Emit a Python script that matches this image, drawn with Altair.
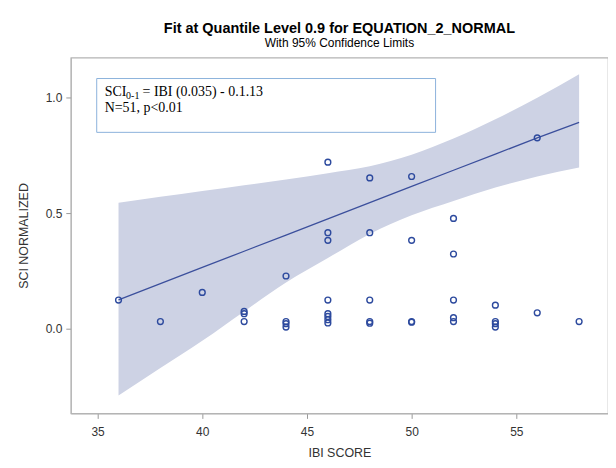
import altair as alt
import pandas as pd

# Observed points
ibi = [36, 38, 40, 42, 42, 42, 44, 44, 44, 44,
       46, 46, 46, 46, 46, 46, 46, 46,
       48, 48, 48, 48, 48,
       50, 50, 50, 50,
       52, 52, 52, 52, 52,
       54, 54, 54, 54,
       56, 56, 58]
sci = [0.124, 0.031, 0.157, 0.075, 0.065, 0.031, 0.228, 0.031, 0.022, 0.007,
       0.72, 0.415, 0.382, 0.124, 0.065, 0.053, 0.039, 0.025,
       0.652, 0.415, 0.124, 0.031, 0.024,
       0.658, 0.382, 0.031, 0.028,
       0.477, 0.323, 0.124, 0.048, 0.031,
       0.102, 0.031, 0.022, 0.007,
       0.825, 0.069, 0.031]

# Fitted quantile line and 95% confidence limits
fit_x = [36, 38, 40, 42, 44, 46, 48, 50, 52, 54, 56, 58]
fit_y = [0.125, 0.195, 0.265, 0.335, 0.405, 0.475, 0.545, 0.615, 0.685, 0.755, 0.825, 0.892]
lower = [-0.289, -0.17, -0.052, 0.075, 0.20, 0.306, 0.41, 0.49, 0.552, 0.61, 0.658, 0.697]
upper = [0.545, 0.57, 0.595, 0.62, 0.645, 0.672, 0.702, 0.752, 0.822, 0.905, 0.998, 1.10]

x_ticks = [35, 40, 45, 50, 55]
y_ticks = [0.0, 0.5, 1.0]

pts = pd.DataFrame({"ibi": ibi, "sci": sci})
fit = pd.DataFrame({"ibi": fit_x, "fit": fit_y, "lo": lower, "hi": upper})
one = pd.DataFrame({"k": [0]})

xs = alt.Scale(domain=[33.72, 59.38], nice=False, zero=False)
ys = alt.Scale(domain=[-0.366, 1.172], nice=False, zero=False)

axis_style = dict(
    grid=False, domainColor="#b4b4b4", tickColor="#9a9a9a", tickSize=5,
    labelFont="Liberation Sans", labelFontSize=12, labelColor="#333333",
    titleFont="Liberation Sans", titleFontSize=12.5, titleFontWeight="normal",
    titleColor="#333333",
)
xax = alt.Axis(values=x_ticks, title="IBI SCORE", format="d",
               labelPadding=8, titlePadding=9, **axis_style)
yax = alt.Axis(values=y_ticks, title="SCI NORMALIZED", format=".1f",
               labelPadding=4, titlePadding=15, **axis_style)

band = alt.Chart(fit).mark_area(color="#cdd2e4", opacity=1, interpolate="monotone").encode(
    x=alt.X("ibi:Q", scale=xs, axis=xax),
    y=alt.Y("lo:Q", scale=ys, axis=yax),
    y2="hi:Q",
)
line = alt.Chart(fit).mark_line(color="#3b4f9c", strokeWidth=1.3).encode(
    x=alt.X("ibi:Q", scale=xs),
    y=alt.Y("fit:Q", scale=ys),
)
points = alt.Chart(pts).mark_point(shape="circle", filled=False, color="#2d4a9e",
                                   strokeWidth=1.4, size=34, opacity=1).encode(
    x=alt.X("ibi:Q", scale=xs),
    y=alt.Y("sci:Q", scale=ys),
)

box = alt.Chart(one).mark_rect(fill="white", stroke="#8db3dc", strokeWidth=1).encode(
    x=alt.value(26), x2=alt.value(366), y=alt.value(21), y2=alt.value(75)
)
serif = "Liberation Serif"
t1 = alt.Chart(one).mark_text(text="SCI", font=serif, fontSize=14, align="left",
                              baseline="alphabetic", color="black").encode(
    x=alt.value(34), y=alt.value(39))
t1s = alt.Chart(one).mark_text(text="0-1", font=serif, fontSize=10, align="left",
                               baseline="alphabetic", color="black").encode(
    x=alt.value(55.5), y=alt.value(42))
t1r = alt.Chart(one).mark_text(text="= IBI (0.035) - 0.1.13", font=serif, fontSize=14,
                               align="left", baseline="alphabetic", color="black").encode(
    x=alt.value(72), y=alt.value(39))
t2 = alt.Chart(one).mark_text(text="N=51, p<0.01", font=serif, fontSize=14, align="left",
                              baseline="alphabetic", color="black").encode(
    x=alt.value(34), y=alt.value(55))

chart = alt.layer(band, line, points, box, t1, t1s, t1r, t2).properties(
    width=539, height=357,
    title=alt.TitleParams(
        text="Fit at Quantile Level 0.9 for EQUATION_2_NORMAL",
        subtitle="With 95% Confidence Limits",
        anchor="middle", frame="group",
        font="Liberation Sans", fontSize=14.5, fontWeight="bold", color="black",
        subtitleFont="Liberation Sans", subtitleFontSize=12, subtitleColor="black",
        subtitlePadding=1, offset=8,
    ),
    autosize=alt.AutoSizeParams(type="none"),
    padding={"left": 63, "top": 49, "right": 0, "bottom": 50},
).configure(background="white").configure_view(
    stroke="#b4b4b4", strokeWidth=1.2
)

chart.save("out.html", embed_options={"renderer": "svg", "actions": False})
